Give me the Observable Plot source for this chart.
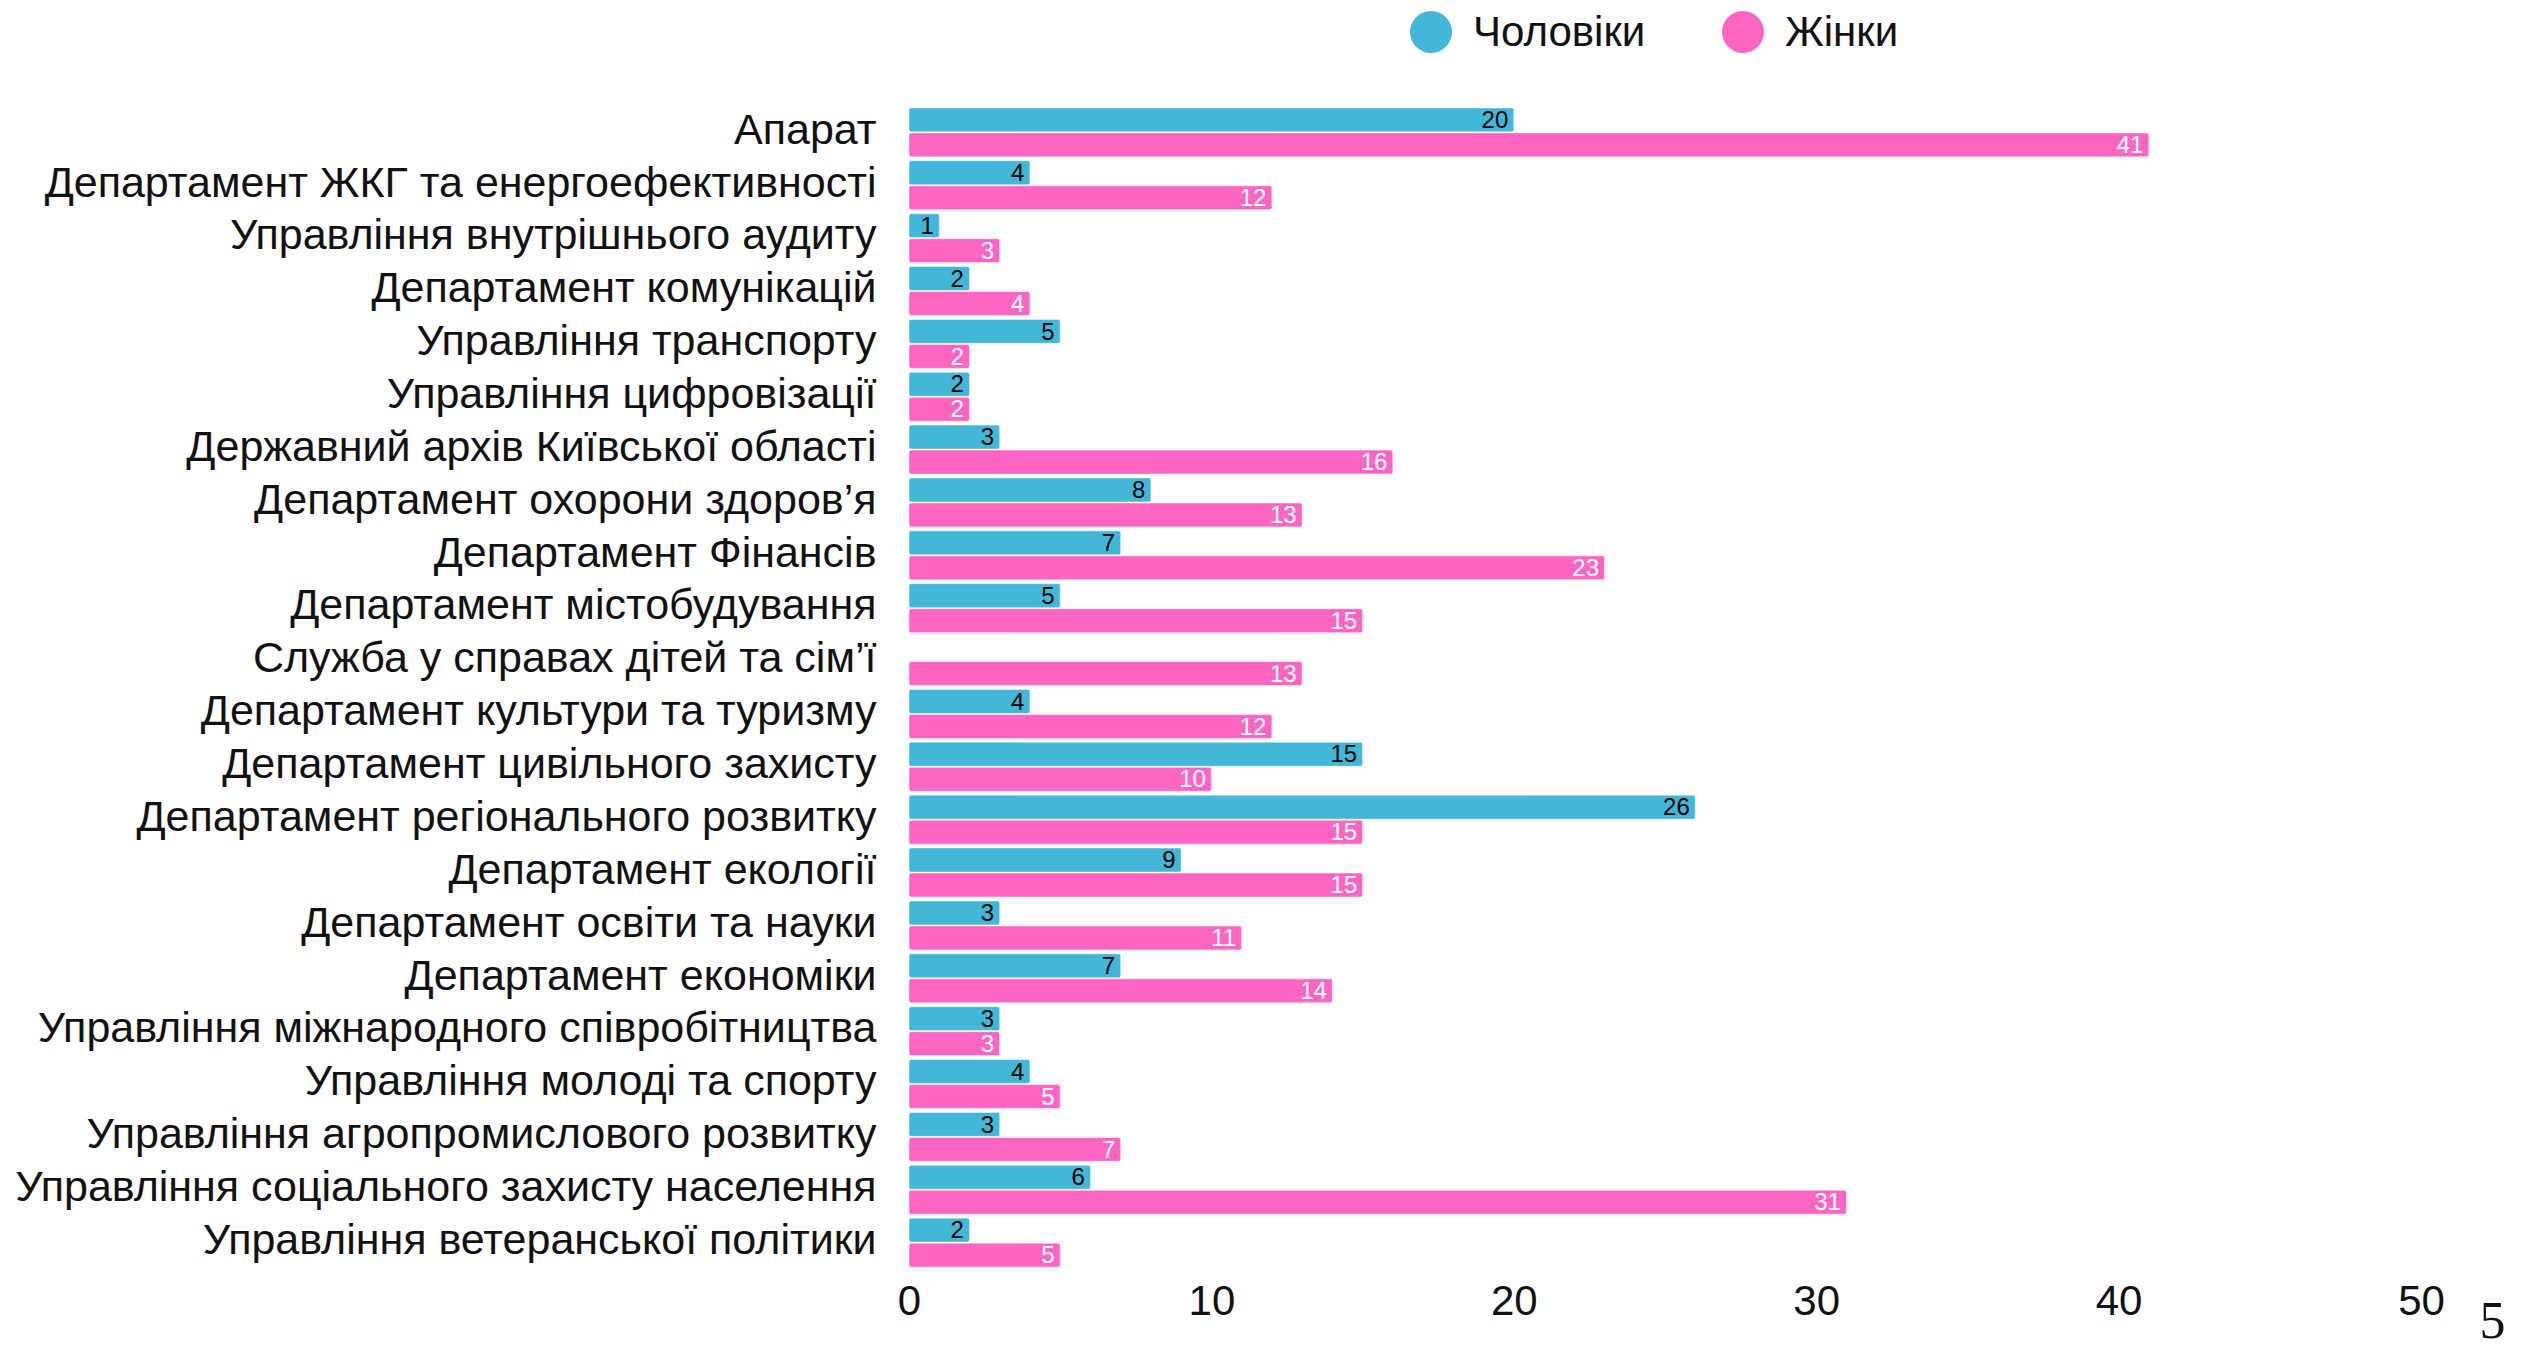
<!DOCTYPE html>
<html>
<head>
<meta charset="utf-8">
<script src="https://cdn.jsdelivr.net/npm/d3@7"></script>
<script src="https://cdn.jsdelivr.net/npm/@observablehq/plot@0.6"></script>
<style>
  html, body { margin: 0; padding: 0; background: #fff; }
  body { width: 2536px; height: 1353px; overflow: hidden; font-family: "Liberation Sans", Arial, sans-serif; }
  #legend { position: relative; height: 62px; width: 2536px; }
  .item { position: absolute; top: 1px; height: 62px; display: flex; align-items: center; font-size: 42px; color: #111; }
  .dot { width: 42px; height: 42px; border-radius: 50%; margin-right: 21px; }
  #chart { height: 1291px; line-height: 0; }
  #chart svg { display: block; }
</style>
</head>
<body>
<div id="legend">
  <div class="item" style="left:1410px;"><span class="dot" style="background:#42b7d7"></span>Чоловіки</div>
  <div class="item" style="left:1722px;"><span class="dot" style="background:#ff66c4"></span>Жінки</div>
</div>
<div id="chart"></div>
<script>
const departments = [
  "Апарат",
  "Департамент ЖКГ та енергоефективності",
  "Управління внутрішнього аудиту",
  "Департамент комунікацій",
  "Управління транспорту",
  "Управління цифровізації",
  "Державний архів Київської області",
  "Департамент охорони здоров’я",
  "Департамент Фінансів",
  "Департамент містобудування",
  "Служба у справах дітей та сім’ї",
  "Департамент культури та туризму",
  "Департамент цивільного захисту",
  "Департамент регіонального розвитку",
  "Департамент екології",
  "Департамент освіти та науки",
  "Департамент економіки",
  "Управління міжнародного співробітництва",
  "Управління молоді та спорту",
  "Управління агропромислового розвитку",
  "Управління соціального захисту населення",
  "Управління ветеранської політики"
];
const men   = [20, 4, 1, 2, 5, 2, 3, 8, 7, 5, null, 4, 15, 26, 9, 3, 7, 3, 4, 3, 6, 2];
const women = [41, 12, 3, 4, 2, 2, 16, 13, 23, 15, 13, 12, 10, 15, 15, 11, 14, 3, 5, 7, 31, 5];
const xTicks = [0, 10, 20, 30, 40, 50];
const seriesNames = ["Чоловіки", "Жінки"];
const colors = ["#42b7d7", "#ff66c4"];

const menData = departments.map((d, i) => ({dept: d, value: men[i]})).filter(d => d.value != null);
const womenData = departments.map((d, i) => ({dept: d, value: women[i]}));

const chart = Plot.plot({
  width: 2536,
  height: 1291,
  marginLeft: 909,
  marginRight: 115,
  marginTop: 42,
  marginBottom: 82,
  style: {fontFamily: "'Liberation Sans', Arial, sans-serif", color: "#111", background: "#fff"},
  x: {domain: [0, 50], ticks: xTicks, tickSize: 0, tickPadding: 14, label: null},
  y: {domain: departments, padding: 0.074, round: false, tickSize: 0, tickPadding: 33, label: null},
  marks: [
    Plot.axisY({tickSize: 0, tickPadding: 33, fontSize: 43, dy: -3, label: null}),
    Plot.axisX({ticks: xTicks, tickSize: 0, tickPadding: 14, fontSize: 42, label: null}),
    Plot.barX(menData, {x: "value", y: "dept", fill: colors[0], insetBottom: 25, rx: 2, stroke: "#ffffff", strokeOpacity: 0.5, strokeWidth: 1}),
    Plot.barX(womenData, {x: "value", y: "dept", fill: colors[1], insetTop: 25, rx: 2, stroke: "#ffffff", strokeOpacity: 0.5, strokeWidth: 1}),
    Plot.text(menData, {x: "value", y: "dept", text: d => String(d.value), dy: -12.5, dx: -6, textAnchor: "end", fill: "#000", fontSize: 24}),
    Plot.text(womenData, {x: "value", y: "dept", text: d => String(d.value), dy: 12.5, dx: -6, textAnchor: "end", fill: "#fff", fontSize: 24}),
    Plot.text(["5"], {frameAnchor: "bottom-right", dx: 84, dy: 50, text: d => d, fontSize: 52, fontFamily: "'Liberation Serif', serif", fill: "#111", textAnchor: "end", lineAnchor: "middle"})
  ]
});
document.getElementById("chart").appendChild(chart);
</script>
</body>
</html>
